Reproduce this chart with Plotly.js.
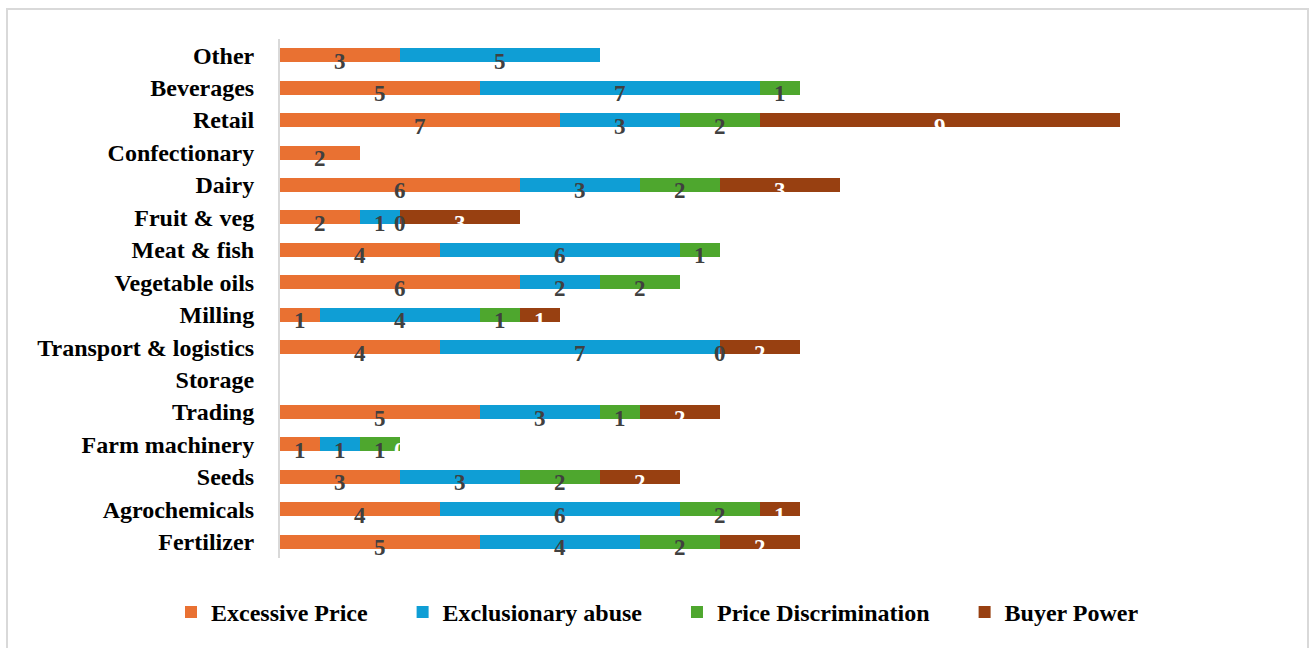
<!DOCTYPE html>
<html>
<head>
<meta charset="utf-8">
<script src="https://cdn.plot.ly/plotly-3.0.1.min.js"></script>
<style>
  html, body { margin: 0; padding: 0; background: #fff; }
  #wrap { position: relative; width: 1315px; height: 648px; }
  #chart { position: absolute; left: 0; top: 0; width: 1315px; height: 648px; }
  #frame { position: absolute; left: 6px; top: 8px; width: 1303px; height: 650px;
           border: 2px solid #d9d9d9; box-sizing: border-box; pointer-events: none; }
</style>
</head>
<body>
<div id="wrap">
  <div id="chart"></div>
  <div id="frame"></div>
</div>
<script>
// Categories listed bottom to top
const categories = ["Fertilizer", "Agrochemicals", "Seeds", "Farm machinery", "Trading", "Storage",
  "Transport & logistics", "Milling", "Vegetable oils", "Meat & fish", "Fruit & veg", "Dairy",
  "Confectionary", "Retail", "Beverages", "Other"];

const seriesNames = ["Excessive Price", "Exclusionary abuse", "Price Discrimination", "Buyer Power"];

const excessivePrice      = [5, 4, 3, 1, 5, null, 4, 1, 6, 4, 2, 6, 2, 7, 5, 3];
const exclusionaryAbuse   = [4, 6, 3, 1, 3, null, 7, 4, 2, 6, 1, 3, null, 3, 7, 5];
const priceDiscrimination = [2, 2, 2, 1, 1, null, 0, 1, 2, 1, 0, 2, null, 2, 1, null];
const buyerPower          = [2, 1, 2, 0, 2, null, 2, 1, null, null, 3, 3, null, 9, null, null];

const seriesValues = [excessivePrice, exclusionaryAbuse, priceDiscrimination, buyerPower];
const colors = ["#E97132", "#0F9ED5", "#4EA72E", "#984011"];
const labelColors = ["#404040", "#404040", "#404040", "#ffffff"];

const FONT = "'Liberation Serif', 'Times New Roman', serif";
const PAD = "\u00a0\u00a0\u00a0\u00a0\u00a0";

const traces = seriesValues.map((vals, i) => ({
  type: "bar",
  orientation: "h",
  name: seriesNames[i] + (i < seriesValues.length - 1 ? PAD : ""),
  y: categories,
  x: vals.map(v => v === null ? 0 : v),
  marker: { color: colors[i], line: { width: 0 } },
  hoverinfo: "skip"
}));

// Data labels as annotations at the middle of each segment
const annotations = [];
const cum = categories.map(() => 0);
seriesValues.forEach((vals, i) => {
  vals.forEach((v, j) => {
    if (v === null) return;
    annotations.push({
      x: cum[j] + v / 2,
      y: categories[j],
      xref: "x", yref: "y",
      text: String(v),
      showarrow: false,
      yshift: -6,
      font: { family: FONT, size: 23, color: labelColors[i], weight: "bold" }
    });
    cum[j] += v;
  });
});

const layout = {
  width: 1315,
  height: 648,
  margin: { l: 280, r: 35, t: 39, b: 90 },
  paper_bgcolor: "rgba(0,0,0,0)",
  plot_bgcolor: "rgba(0,0,0,0)",
  barmode: "stack",
  bargap: 0.57,
  showlegend: true,
  legend: {
    orientation: "h",
    xref: "container",
    x: 0.5,
    xanchor: "center",
    yref: "container",
    y: 0.055,
    yanchor: "middle",
    font: { family: FONT, size: 24, color: "#000000", weight: "bold" },
    itemwidth: 30,
    traceorder: "normal",
    itemclick: false
  },
  xaxis: {
    range: [0, 25],
    showgrid: false,
    zeroline: false,
    showticklabels: false,
    showline: false,
    fixedrange: true
  },
  yaxis: {
    type: "category",
    categoryorder: "array",
    categoryarray: categories,
    range: [-0.5, 15.5],
    showgrid: false,
    zeroline: false,
    showline: true,
    linecolor: "#d9d9d9",
    linewidth: 2,
    ticks: "",
    ticklabelstandoff: 19,
    tickfont: { family: FONT, size: 24, color: "#000000", weight: "bold" },
    fixedrange: true
  },
  annotations: annotations,
  font: { family: FONT }
};

Plotly.newPlot("chart", traces, layout, { displayModeBar: false, staticPlot: true });
</script>
</body>
</html>
